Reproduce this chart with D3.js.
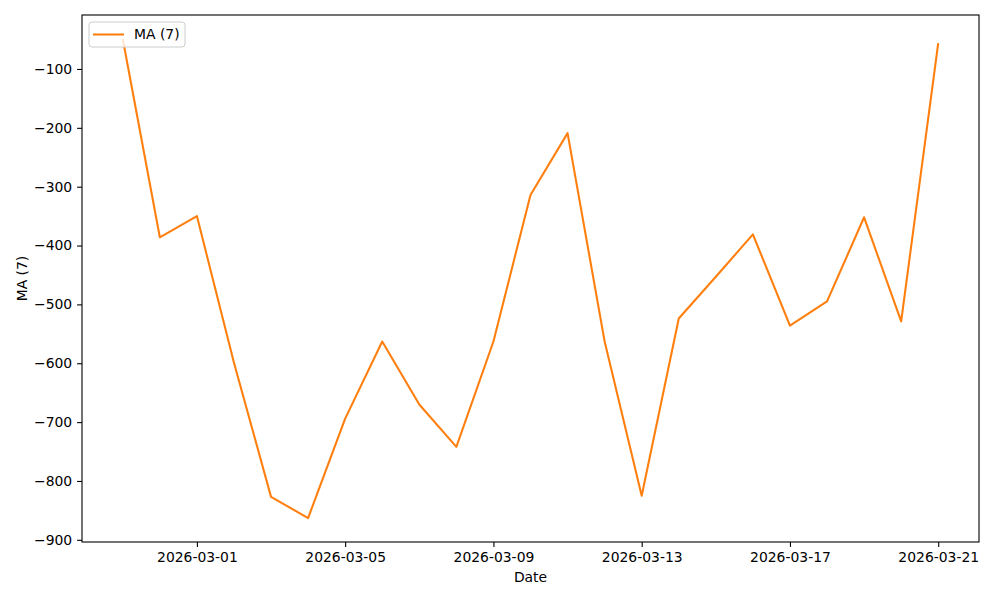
<!DOCTYPE html>
<html>
<head>
<meta charset="utf-8">
<script src="https://cdn.jsdelivr.net/npm/d3@7"></script>
<style>
  body { margin: 0; background: #fff; }
  svg { font-family: "DejaVu Sans", sans-serif; }
</style>
</head>
<body>
<svg id="chart" width="1000" height="600"></svg>
<script>
// data
const dates = [
  '2026-02-27', '2026-02-28', '2026-03-01', '2026-03-02', '2026-03-03', '2026-03-04',
  '2026-03-05', '2026-03-06', '2026-03-07', '2026-03-08', '2026-03-09', '2026-03-10',
  '2026-03-11', '2026-03-12', '2026-03-13', '2026-03-14', '2026-03-15', '2026-03-16',
  '2026-03-17', '2026-03-18', '2026-03-19', '2026-03-20', '2026-03-21'
];
const maValues = [
  -49, -386, -350, -599, -827, -863,
  -694, -563, -670, -742, -563, -314,
  -209, -563, -825, -524, -453, -381,
  -536, -495, -352, -529, -56
];
const xTickLabels = ['2026-03-01', '2026-03-05', '2026-03-09', '2026-03-13', '2026-03-17', '2026-03-21'];
const yTicks = [-900, -800, -700, -600, -500, -400, -300, -200, -100];
const seriesName = 'MA (7)';

const parse = d3.timeParse('%Y-%m-%d');
const fmt = d3.timeFormat('%Y-%m-%d');
const data = dates.map((d, i) => ({ date: parse(d), value: maValues[i] }));

const svg = d3.select('#chart');
const margin = { top: 15, right: 21, bottom: 58, left: 82 };
const width = 1000 - margin.left - margin.right;
const height = 600 - margin.top - margin.bottom;
const orange = '#ff7f0e';
const fontSize = '13.9px';

// matplotlib style 5% margins
const xExt = d3.extent(data, d => d.date);
const xPad = (xExt[1] - xExt[0]) * 0.05;
const yExt = d3.extent(data, d => d.value);
const yPad = (yExt[1] - yExt[0]) * 0.05;

const x = d3.scaleTime()
  .domain([new Date(+xExt[0] - xPad), new Date(+xExt[1] + xPad)])
  .range([0, width]);
const y = d3.scaleLinear()
  .domain([yExt[0] - yPad, yExt[1] + yPad])
  .range([height, 0]);

const g = svg.append('g').attr('transform', `translate(${margin.left},${margin.top})`);

const line = d3.line()
  .x(d => x(d.date))
  .y(d => y(d.value));

g.append('path')
  .datum(data)
  .attr('fill', 'none')
  .attr('stroke', orange)
  .attr('stroke-width', 2.08)
  .attr('stroke-linejoin', 'round')
  .attr('d', line);

// axes
const xAxis = g.append('g')
  .attr('transform', `translate(0,${height})`)
  .call(d3.axisBottom(x)
    .tickValues(xTickLabels.map(parse))
    .tickFormat(fmt)
    .tickSizeInner(4.9)
    .tickSizeOuter(0)
    .tickPadding(4.9));

const yAxis = g.append('g')
  .call(d3.axisLeft(y)
    .tickValues(yTicks)
    .tickFormat(d => d3.format('d')(d).replace('-', '\u2212'))
    .tickSizeInner(4.9)
    .tickSizeOuter(0)
    .tickPadding(4.9));

[xAxis, yAxis].forEach(ax => {
  ax.attr('font-family', '"DejaVu Sans", sans-serif').attr('font-size', fontSize);
  ax.select('.domain').remove();
  ax.selectAll('.tick line').attr('stroke', '#000').attr('stroke-width', 1.1);
  ax.selectAll('.tick text').attr('fill', '#000');
});
xAxis.selectAll('.tick text').attr('dy', '0.76em');

// frame
g.append('rect')
  .attr('width', width)
  .attr('height', height)
  .attr('fill', 'none')
  .attr('stroke', '#000')
  .attr('stroke-width', 1.1);

// axis labels
svg.append('text')
  .attr('x', margin.left + width / 2)
  .attr('y', 582)
  .attr('text-anchor', 'middle')
  .style('font-size', fontSize)
  .text('Date');

svg.append('text')
  .attr('transform', `translate(27,${margin.top + height / 2}) rotate(-90)`)
  .attr('text-anchor', 'middle')
  .style('font-size', fontSize)
  .text(seriesName);

// legend
const legend = g.append('g').attr('transform', 'translate(7,7)');
legend.append('rect')
  .attr('width', 96)
  .attr('height', 25)
  .attr('rx', 3)
  .attr('fill', '#fff')
  .attr('fill-opacity', 0.8)
  .attr('stroke', '#cccccc')
  .attr('stroke-width', 1);
legend.append('line')
  .attr('x1', 4).attr('x2', 35)
  .attr('y1', 12.5).attr('y2', 12.5)
  .attr('stroke', orange)
  .attr('stroke-width', 2.08);
legend.append('text')
  .attr('x', 45)
  .attr('y', 12.5)
  .attr('dy', '0.35em')
  .style('font-size', fontSize)
  .text(seriesName);
</script>
</body>
</html>
